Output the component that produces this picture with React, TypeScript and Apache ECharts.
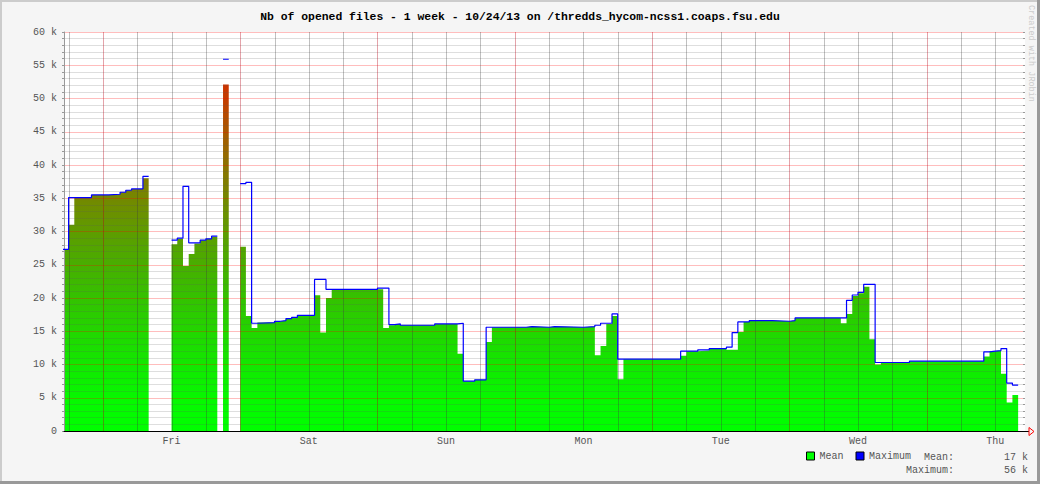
import React, { useEffect, useRef } from 'react';
import * as echarts from 'echarts';

const TITLE = 'Nb of opened files - 1 week - 10/24/13 on /thredds_hycom-ncss1.coaps.fsu.edu';
const CREDIT = 'Created with JRobin';

// x axis: hours relative to Friday 00:00
const X_MIN = -6.8;
const X_MAX = 161.2;
const DAY_LABELS = ['Fri', 'Sat', 'Sun', 'Mon', 'Tue', 'Wed', 'Thu'];
const DAY_LABEL_HOURS = [12, 36, 60, 84, 108, 132, 156];
// vertical grid: every 6 hours (minor) and every midnight (major)
const MINOR_HOURS = [
  -6, 6, 12, 18, 30, 36, 42, 54, 60, 66, 78, 84, 90, 102, 108, 114, 126, 132, 138, 150, 156,
];
const MAJOR_HOURS = [0, 24, 48, 72, 96, 120, 144];

// y axis in thousands of files
const Y_MIN = 0;
const Y_MAX = 60;
const Y_STEP = 5;

// Mean: start hour of each step and value (k); null = no data
const MEAN_START = [
  -7, -6, -5, -2, 1, 3, 4, 5, 7, 8,
  12, 13, 14, 15, 16, 17, 18, 19, 20,
  21, 22,
  24, 25, 26, 27, 30, 31, 32, 33, 34, 37, 38, 39, 40, 49, 50, 51, 52, 58, 62, 63, 65, 67, 68,
  74, 75, 78, 79, 84, 86, 87, 88, 89, 90, 91, 101, 102, 104, 106, 109, 111, 112, 113, 117,
  120, 121, 129, 130, 131, 132, 133, 134, 135, 136, 141, 154, 155, 156, 157, 158, 159,
];
const MEAN_VALUES = [
  27.3, 31.0, 35.1, 35.5, 35.6, 35.9, 36.2, 36.4, 38.0, null,
  28.1, 28.9, 24.8, 26.6, 28.2, 28.7, 28.9, 29.2, null,
  52.1, null,
  27.7, 17.3, 15.5, 16.3, 16.5, 16.6, 16.9, 17.1, 17.4, 20.4, 14.8, 20.0, 21.3, 15.5, 15.9, 16.1, 15.9, 16.1, 11.6, 7.5, 7.7, 13.4, 15.6,
  15.7, 15.6, 15.7, 15.6, 15.7, 11.4, 12.8, 16.1, 17.3, 7.8, 10.8, 11.3, 12.0, 12.1, 12.4, 12.2, 14.9, 16.4, 16.6, 16.5,
  16.6, 17.0, 16.2, 17.6, 20.3, 20.7, 21.7, 13.8, 10.0, 10.3, 10.5, 11.2, 12.0, 12.1, 8.6, 4.3, 5.4,
];

// Maximum: start hour of each step and value (k); null = no data
const MAX_START = [
  -7, -6, -2, 1, 3, 4, 5, 7, 8,
  12, 13, 14, 15, 17, 18, 19, 20,
  21, 22,
  24, 25, 26, 27, 30, 31, 32, 33, 34, 37, 39, 48, 50, 51, 52, 58, 62, 63, 65, 67,
  74, 75, 78, 79, 84, 86, 87, 89, 90, 101, 104, 106, 109, 110, 111, 113, 117,
  120, 121, 130, 131, 132, 133, 135, 141, 154, 155, 156, 157, 158, 159,
];
const MAX_VALUES = [
  27.3, 35.1, 35.5, 35.6, 35.9, 36.2, 36.4, 38.3, null,
  28.7, 29.0, 36.8, 28.3, 28.7, 28.9, 29.3, null,
  55.9, null,
  37.2, 37.4, 16.2, 16.3, 16.5, 16.6, 16.9, 17.1, 17.4, 22.8, 21.3, 21.5, 16.0, 16.1, 15.9, 16.1, 16.2, 7.5, 7.7, 15.6,
  15.7, 15.6, 15.7, 15.6, 15.7, 15.9, 16.2, 17.6, 10.8, 12.0, 12.2, 12.4, 12.6, 14.8, 16.4, 16.6, 16.5,
  16.6, 17.0, 19.65, 20.45, 20.85, 22.05, 10.3, 10.5, 11.9, 12.0, 12.1, 12.4, 7.2, 6.9,
];
const DATA_END = 160;

const SUMMARY_LABELS = ['Mean:', 'Maximum:'];
const SUMMARY_VALUES = ['17 k', '56 k'];

// colour of the mean area by height, from 0 k to 55 k every 5 k
const MEAN_GRADIENT = [
  '#00ff00', '#06f800', '#12e800', '#22d600', '#34c200', '#48ae00',
  '#5e9c00', '#748800', '#8c7200', '#a85800', '#c43c00', '#d82800',
];

const MONO = '"Liberation Mono", "DejaVu Sans Mono", monospace';

function buildSteps(starts: number[], values: (number | null)[], end: number) {
  const pts: any[] = [];
  for (let i = 0; i < starts.length; i++) {
    const v = values[i];
    const next = i + 1 < starts.length ? starts[i + 1] : end;
    if (v === null) {
      pts.push([starts[i], '-']);
      continue;
    }
    pts.push([starts[i], v]);
    const nv = i + 1 < values.length ? values[i + 1] : null;
    if (nv === null) pts.push([next, v]);
  }
  return pts;
}

function vGridSeries(name: string, hours: number[], color: string) {
  return {
    name,
    type: 'custom',
    silent: true,
    z: 3,
    clip: false,
    data: hours.map((h) => [h, Y_MIN]),
    encode: { x: 0, y: 1 },
    renderItem: (params: any, api: any) => {
      const h = api.value(0);
      const p1 = api.coord([h, Y_MIN]);
      const p2 = api.coord([h, Y_MAX]);
      const x = Math.round(p1[0]);
      return {
        type: 'rect',
        shape: { x, y: p2[1], width: 1, height: p1[1] - p2[1] },
        style: { fill: color },
      };
    },
  };
}

export default function App() {
  const ref = useRef<HTMLDivElement>(null);

  useEffect(() => {
    if (!ref.current) return;
    const chart = echarts.init(ref.current, undefined, { renderer: 'svg' });

    const meanPts = buildSteps(MEAN_START, MEAN_VALUES, DATA_END);
    const maxPts = buildSteps(MAX_START, MAX_VALUES, DATA_END);

    const textRight = (t: string, x: number, y: number) => ({
      type: 'text',
      x,
      y,
      style: {
        text: t,
        fontFamily: MONO,
        fontSize: 10,
        fill: '#555',
        textAlign: 'right',
        textVerticalAlign: 'middle',
      },
      silent: true,
    });

    const option: any = {
      animation: false,
      backgroundColor: '#f5f5f5',
      title: {
        text: TITLE,
        left: 'center',
        top: 11,
        padding: 0,
        textStyle: { fontFamily: MONO, fontSize: 11.4, fontWeight: 'bold', color: '#000' },
      },
      grid: {
        left: 64,
        top: 32,
        right: 15,
        bottom: 53,
        show: true,
        backgroundColor: '#ffffff',
        borderWidth: 0,
      },
      legend: {
        left: 806,
        top: 451,
        padding: 0,
        itemWidth: 8,
        itemHeight: 8,
        itemGap: 12,
        icon: 'rect',
        selectedMode: false,
        textStyle: { fontFamily: MONO, fontSize: 10, color: '#555' },
        data: [
          { name: 'Mean', itemStyle: { color: '#00ff00', borderColor: '#000', borderWidth: 1 } },
          { name: 'Maximum', itemStyle: { color: '#0000ff', borderColor: '#000', borderWidth: 1 } },
        ],
      },
      visualMap: {
        type: 'continuous',
        show: false,
        seriesIndex: 0,
        dimension: 1,
        min: 0,
        max: 55,
        inRange: { color: MEAN_GRADIENT },
      },
      xAxis: {
        type: 'value',
        min: X_MIN,
        max: X_MAX,
        z: 5,
        axisLine: { show: true, onZero: false, lineStyle: { color: '#000', width: 1 } },
        axisTick: { show: false },
        splitLine: { show: false },
        axisLabel: {
          customValues: DAY_LABEL_HOURS,
          formatter: (v: number) => {
            const i = DAY_LABEL_HOURS.indexOf(Math.round(v));
            return i >= 0 ? DAY_LABELS[i] : '';
          },
          fontFamily: MONO,
          fontSize: 10,
          color: '#555',
          margin: 5,
        },
      },
      yAxis: [
        {
          type: 'value',
          min: Y_MIN,
          max: Y_MAX,
          interval: Y_STEP,
          z: 3,
          axisLine: { show: true, onZero: false, lineStyle: { color: '#999' } },
          axisTick: { show: true, length: 2, lineStyle: { color: '#999' } },
          minorTick: { show: true, splitNumber: 5, length: 2, lineStyle: { color: '#999' } },
          splitLine: { show: true, lineStyle: { color: '#ff0000', opacity: 0.26, width: 1 } },
          minorSplitLine: { show: true, lineStyle: { color: '#5a5a5a', opacity: 0.2, width: 1 } },
          axisLabel: {
            formatter: (v: number) => (v === 0 ? '0' : v + ' k'),
            fontFamily: MONO,
            fontSize: 10,
            color: '#555',
            margin: 7,
          },
        },
        {
          type: 'value',
          position: 'right',
          min: Y_MIN,
          max: Y_MAX,
          interval: Y_STEP,
          z: 3,
          axisLine: { show: false, onZero: false },
          axisTick: { show: true, inside: true, length: 2, lineStyle: { color: '#999' } },
          minorTick: { show: true, splitNumber: 5, length: 2, lineStyle: { color: '#999' } },
          splitLine: { show: false },
          axisLabel: { show: false },
        },
      ],
      series: [
        {
          name: 'Mean',
          type: 'line',
          step: 'end',
          data: meanPts,
          showSymbol: false,
          symbol: 'none',
          silent: true,
          z: 2,
          lineStyle: { width: 0, opacity: 0 },
          areaStyle: { opacity: 1 },
        },
        vGridSeries('minorGrid', MINOR_HOURS, 'rgba(60,60,60,0.32)'),
        vGridSeries('majorGrid', MAJOR_HOURS, 'rgba(180,0,20,0.36)'),
        {
          name: 'Maximum',
          type: 'line',
          step: 'end',
          data: maxPts,
          showSymbol: false,
          symbol: 'none',
          silent: true,
          z: 4,
          itemStyle: { color: '#0000ff' },
          lineStyle: { color: '#0000ff', width: 1.2 },
        },
      ],
      graphic: [
        { type: 'rect', shape: { x: 0, y: 0, width: 1040, height: 2 }, style: { fill: '#cccccc' }, silent: true },
        { type: 'rect', shape: { x: 0, y: 0, width: 2, height: 484 }, style: { fill: '#cccccc' }, silent: true },
        { type: 'rect', shape: { x: 1037, y: 0, width: 3, height: 484 }, style: { fill: '#999999' }, silent: true },
        { type: 'rect', shape: { x: 0, y: 481, width: 1040, height: 3 }, style: { fill: '#999999' }, silent: true },
        {
          type: 'line',
          shape: { x1: 1025, y1: 431.5, x2: 1029, y2: 431.5 },
          style: { stroke: '#000', lineWidth: 1 },
          silent: true,
        },
        {
          type: 'polygon',
          shape: { points: [[1029, 427.5], [1029, 435.5], [1034, 431.5]] },
          style: { stroke: '#ff0000', fill: '#f5f5f5', lineWidth: 1 },
          silent: true,
        },
        {
          type: 'text',
          x: 1031,
          y: 5,
          rotation: -Math.PI / 2,
          style: {
            text: CREDIT,
            fontFamily: MONO,
            fontSize: 8.5,
            fill: '#cccccc',
            textAlign: 'left',
            textVerticalAlign: 'middle',
          },
          silent: true,
        },
        ...SUMMARY_LABELS.map((t, i) => textRight(t, 954, 457 + i * 13)),
        ...SUMMARY_VALUES.map((t, i) => textRight(t, 1028, 457 + i * 13)),
      ],
    };

    chart.setOption(option);
    return () => chart.dispose();
  }, []);

  return (
    <div
      ref={ref}
      style={{ position: 'absolute', left: 0, top: 0, width: 1040, height: 484 }}
    />
  );
}
